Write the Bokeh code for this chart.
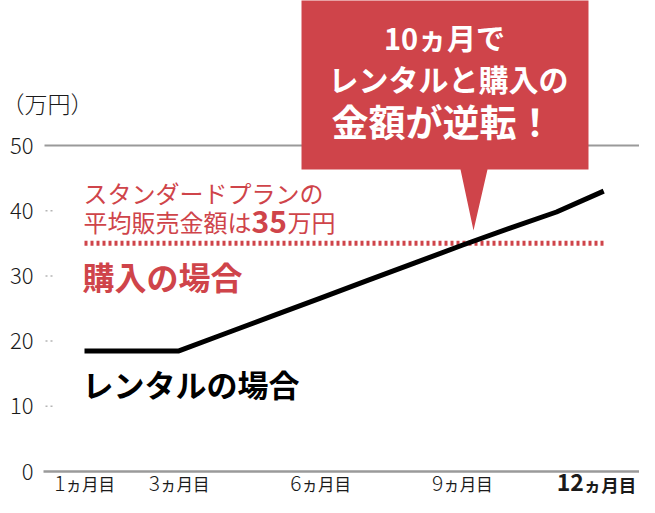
from bokeh.plotting import figure
from bokeh.models import Range1d
from bokeh.embed import file_html
from bokeh.resources import INLINE
from bokeh.core.properties import value

# ---------------- data ----------------
months = [1, 2, 3, 4, 5, 6, 7, 8, 9, 10, 11, 12]
rental_cost = [18.5, 18.5, 18.5, 21.2, 23.9, 26.6, 29.3, 32.0, 34.7, 37.3, 39.8, 43.0]
purchase_price = 35
y_ticks = [0, 10, 20, 30, 40, 50]
y_tick_labels = ["0", "10", "20", "30", "40", "50"]
x_tick_months = [1, 3, 6, 9, 12]
x_tick_nums = ["1", "3", "6", "9", "12"]
x_tick_bold = [False, False, False, False, True]
x_tick_unit = "ヵ月目"
unit_label = "（万円）"
callout_lines = ["10ヵ月で", "レンタルと購入の", "金額が逆転！"]
purchase_note1 = "スタンダードプランの"
purchase_note2 = ["平均販売金額は", "35", "万円"]
purchase_label = "購入の場合"
rental_label = "レンタルの場合"

RED = "#cf444a"
GRAY = "#9a9a9a"
JP = value("Noto Sans CJK JP")
JP_LIGHT = value("Noto Sans CJK JP Light, Noto Sans CJK JP")

W, H = 639, 497
X_M1, PX_M = 84.0, 47.2          # pixel of month 1, pixels per month
Y_V0 = 471.0                     # pixel of value 0
PX_V = (Y_V0 - 145.0) / 50.0     # pixels per 万円 (50 sits at pixel 145)


def X(px):
    return 1 + (px - X_M1) / PX_M


def Y(py):
    return (Y_V0 - py) / PX_V


p = figure(width=W, height=H, output_backend="svg", toolbar_location=None,
           x_range=Range1d(X(0), X(W)), y_range=Range1d(Y(H), Y(0)),
           min_border=0, outline_line_color=None)
p.axis.visible = False
p.grid.visible = False
p.background_fill_color = "white"
p.border_fill_color = "white"

# top line (50) and baseline (0)
p.segment(x0=[X(44)], y0=[y_ticks[-1]], x1=[X(700)], y1=[y_ticks[-1]], line_color=GRAY, line_width=2)
p.segment(x0=[X(43)], y0=[y_ticks[0]], x1=[X(700)], y1=[y_ticks[0]], line_color=GRAY, line_width=2.5)
# small dotted ticks
mid = y_ticks[1:-1]
p.segment(x0=[X(45)] * len(mid), y0=mid, x1=[X(54)] * len(mid), y1=mid,
          line_color="#b5b5b5", line_width=1.5, line_dash="2 3")

# y tick labels
p.text(x=[X(33)] * len(y_ticks), y=y_ticks, text=y_tick_labels, text_align="right",
       text_baseline="middle", text_font=JP_LIGHT, text_font_size="22px", text_color="#1a1a1a")
p.text(x=[X(47)], y=[Y(102)], text=[unit_label], text_align="center", text_baseline="middle",
       text_font=JP_LIGHT, text_font_size="23px", text_color="#1a1a1a")

# x tick labels (number + unit)
num_off, unit_sizes, num_sizes = [], [], []
for i, (n, b) in enumerate(zip(x_tick_nums, x_tick_bold)):
    ns = 23 if b else 21
    us = 17.5 if b else 16.5
    nw = len(n) * ns * (0.58 if b else 0.55)
    total = nw + 3 * us
    off = -total / 2 + nw
    if i == len(x_tick_nums) - 1:
        off -= 7
    num_off.append(off)
    num_sizes.append(f"{ns}px")
    unit_sizes.append(f"{us}px")
LABEL_Y = Y(482)
for i, m in enumerate(x_tick_months):
    b = x_tick_bold[i]
    p.text(x=[m], y=[LABEL_Y], text=[x_tick_nums[i]], x_offset=num_off[i], text_align="right",
           text_baseline="middle", text_font=JP if b else JP_LIGHT,
           text_font_style="bold" if b else "normal", text_font_size=num_sizes[i], text_color="#1a1a1a")
    p.text(x=[m], y=[LABEL_Y], text=[x_tick_unit], x_offset=num_off[i], y_offset=1.5, text_align="left",
           text_baseline="middle", text_font=JP,
           text_font_style="bold" if b else "normal", text_font_size=unit_sizes[i], text_color="#1a1a1a")

# purchase price dotted line
p.line(x=[months[0], months[-1]], y=[purchase_price, purchase_price], line_color=RED,
       line_width=5, line_dash="3 3")

# rental line
p.line(x=months, y=rental_cost, line_color="black", line_width=5)

# red annotations
p.text(x=[X(83)], y=[Y(192)], text=[purchase_note1], text_align="left", text_baseline="middle",
       text_font=JP, text_font_size="24px", text_color=RED)
p.text(x=[X(83)], y=[Y(221)], text=[purchase_note2[0]], text_align="left", text_baseline="middle",
       text_font=JP, text_font_size="24px", text_color=RED)
p.text(x=[X(251)], y=[Y(221)], text=[purchase_note2[1]], text_align="left", text_baseline="middle",
       text_font=JP, text_font_style="bold", text_font_size="30px", text_color=RED)
p.text(x=[X(287)], y=[Y(221)], text=[purchase_note2[2]], text_align="left", text_baseline="middle",
       text_font=JP, text_font_size="24px", text_color=RED)
p.text(x=[X(82)], y=[Y(275)], text=[purchase_label], text_align="left", text_baseline="middle",
       text_font=JP, text_font_style="bold", text_font_size="32px", text_color=RED)
p.text(x=[X(82)], y=[Y(383)], text=[rental_label], text_align="left", text_baseline="middle",
       text_font=JP, text_font_style="bold", text_font_size="31px", text_color="black")

# callout
cx = [X(301), X(588), X(588), X(487), X(473), X(460), X(301)]
cy = [Y(-10), Y(-10), Y(169), Y(169), Y(230), Y(169), Y(169)]
p.patch(x=cx, y=cy, fill_color=RED, line_color=None)
p.text(x=[X(444)], y=[Y(36)], text=[callout_lines[0]], text_align="center", text_baseline="middle",
       text_font=JP, text_font_style="bold", text_font_size="29px", text_color="white")
p.text(x=[X(448)], y=[Y(77)], text=[callout_lines[1]], text_align="center", text_baseline="middle",
       text_font=JP, text_font_style="bold", text_font_size="30px", text_color="white")
p.text(x=[X(442)], y=[Y(120)], text=[callout_lines[2]], text_align="center", text_baseline="middle",
       text_font=JP, text_font_style="bold", text_font_size="37px", text_color="white")

open("out.html", "w").write(file_html(p, INLINE))
